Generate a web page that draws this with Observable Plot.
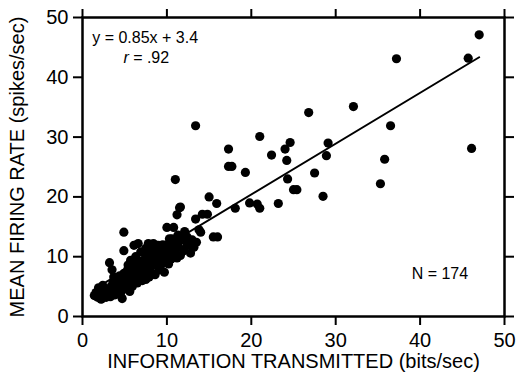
<!DOCTYPE html>
<html>
<head>
<meta charset="utf-8">
<script src="https://cdn.jsdelivr.net/npm/d3@7"></script>
<script src="https://cdn.jsdelivr.net/npm/@observablehq/plot@0.6"></script>
<style>
  html, body { margin: 0; padding: 0; background: #fff; }
  #chart { width: 524px; height: 374px; }
</style>
</head>
<body>
<div id="chart"></div>
<script>
// Information transmitted (bits/sec), x values
const infoX = [
  47.0, 45.7, 37.2, 36.5, 46.1, 35.8, 35.3, 32.1, 26.8, 29.1, 28.9, 27.5, 28.5,
  24.6, 24.0, 22.4, 24.2, 24.3, 25.0, 25.4, 23.2, 13.4, 21.0, 17.3, 17.3, 17.7,
  19.3, 15.0, 15.9, 18.1, 19.8, 20.7, 21.0, 14.2, 14.8, 13.4, 11.5, 11.0, 11.2,
  13.8, 10.0, 10.8, 4.9, 16.0, 15.5, 14.0, 11.6,
  1.4, 1.6, 1.8, 2.0, 2.1, 2.3, 2.5, 2.6, 1.9, 2.8, 2.2, 3.0, 3.1,
  3.3, 3.4, 3.5, 3.6, 3.8, 3.9, 4.0, 3.2, 3.5, 3.7, 4.2, 4.3, 4.4, 4.5, 4.6,
  4.8, 4.9, 5.0, 5.1, 5.2, 5.3, 5.4, 5.5, 5.6, 5.7, 4.9, 5.8, 5.9, 6.0, 6.1, 6.0,
  6.2, 6.3, 6.4, 6.5, 6.6, 6.6, 6.7, 6.8, 6.9, 7.0, 7.1, 7.2, 7.3, 7.4, 7.5, 7.6,
  7.7, 7.8, 7.9, 7.9,
  8.0, 8.1, 8.2, 8.3, 8.4, 8.5, 8.6, 8.7, 8.8, 8.9, 9.0, 9.1, 9.2, 9.3, 9.4, 9.5,
  9.6, 9.7, 9.8, 9.9,
  10.0, 10.1, 10.2, 10.3, 10.4, 10.5, 10.6, 10.7, 10.8, 11.0, 11.1, 11.2, 11.3,
  11.4, 11.6, 11.8,
  12.0, 12.2, 12.4, 12.4, 12.6, 12.8, 13.0, 13.2, 13.5, 12.1,
  4.7, 5.6, 7.5, 2.4, 3.6, 6.3, 8.0, 9.4, 10.6
];
// Mean firing rate (spikes/sec), y values
const rateY = [
  47.1, 43.2, 43.1, 31.9, 28.1, 26.3, 22.2, 35.1, 34.1, 29.0, 26.9, 24.0, 20.1,
  29.1, 28.0, 27.0, 26.1, 23.0, 21.2, 21.2, 18.9, 31.9, 30.1, 28.0, 25.1, 25.1,
  24.1, 20.0, 18.9, 18.1, 19.0, 18.8, 18.1, 17.1, 17.1, 16.3, 18.2, 22.9, 17.0,
  14.5, 14.9, 14.9, 14.1, 13.3, 13.3, 14.1, 18.3,
  3.5, 4.0, 3.2, 3.8, 4.5, 3.0, 3.6, 4.2, 4.8, 3.2, 2.9, 3.8, 4.6,
  3.3, 5.0, 4.2, 5.6, 3.6, 4.8, 6.0, 9.0, 7.8, 6.6, 5.2, 4.0, 6.8, 3.8, 5.8,
  4.6, 7.2, 5.4, 6.4, 4.6, 7.7, 8.6, 5.0, 6.0, 9.4, 11.0, 7.0, 5.0, 8.2, 11.9, 5.6,
  6.6, 10.0, 7.6, 5.6, 12.2, 9.0, 6.2, 8.0, 10.8, 7.0, 6.0, 9.4, 8.4, 6.6, 11.4, 7.6,
  10.2, 12.2, 6.6, 9.0,
  8.0, 11.0, 7.2, 9.8, 12.2, 8.6, 7.0, 10.6, 11.8, 9.2, 11.9, 7.8, 10.2, 8.6, 9.1, 12.0,
  10.8, 7.4, 11.4, 9.6,
  12.0, 10.4, 8.8, 13.0, 11.2, 9.6, 13.0, 12.0, 10.8, 10.7, 12.4, 9.8, 13.6,
  11.6, 10.2, 12.8,
  11.0, 13.4, 11.9, 13.3, 12.2, 10.6, 12.8, 11.6, 12.4, 14.2,
  3.0, 4.2, 6.2, 5.2, 4.4, 7.0, 9.4, 10.4, 11.8
];
const xTicks = [0, 10, 20, 30, 40, 50];
const yTicks = [0, 10, 20, 30, 40, 50];
const fitSlope = 0.85;
const fitIntercept = 3.4;
const fitRangeX = [1.5, 47];
const xTitle = "INFORMATION TRANSMITTED (bits/sec)";
const yTitle = "MEAN FIRING RATE (spikes/sec)";
const eqText = "y = 0.85x + 3.4";
const rSymbol = "r";
const rValue = "= .92";
const nText = "N = 174";

const points = infoX.map((x, i) => ({x, y: rateY[i]}));
const fitLine = fitRangeX.map(x => ({x, y: fitSlope * x + fitIntercept}));

const font = "'Liberation Sans', Arial, Helvetica, sans-serif";
const noLabel = () => "";

const chart = Plot.plot({
  width: 524,
  height: 374,
  marginLeft: 82,
  marginRight: 20,
  marginTop: 17,
  marginBottom: 58,
  style: {fontFamily: font, fontSize: "20px", color: "#000", background: "#fff"},
  x: {domain: [0, 50]},
  y: {domain: [0, 50]},
  marks: [
    Plot.axisX(xTicks, {anchor: "bottom", tickSize: 9, tickPadding: 7, strokeWidth: 2, label: null, fontSize: 20}),
    Plot.axisX(xTicks, {anchor: "top", tickSize: 9, strokeWidth: 2, tickFormat: noLabel, label: null}),
    Plot.axisY(yTicks, {anchor: "left", tickSize: 9, tickPadding: 5, strokeWidth: 2, label: null, fontSize: 20}),
    Plot.axisY(yTicks, {anchor: "right", tickSize: 9, strokeWidth: 2, tickFormat: noLabel, label: null}),
    Plot.frame({stroke: "#000", strokeWidth: 2.5}),
    Plot.line(fitLine, {x: "x", y: "y", stroke: "#000", strokeWidth: 2}),
    Plot.dot(points, {x: "x", y: "y", r: 4.6, fill: "#000", stroke: "none"}),
    Plot.text([eqText], {x: 1.15, y: 46.6, text: d => d, textAnchor: "start", fontSize: 16}),
    Plot.text([rSymbol], {x: 4.85, y: 43.3, text: d => d, textAnchor: "start", fontSize: 16, fontStyle: "italic"}),
    Plot.text([rValue], {x: 6.0, y: 43.3, text: d => d, textAnchor: "start", fontSize: 16}),
    Plot.text([nText], {x: 39.0, y: 7.2, text: d => d, textAnchor: "start", fontSize: 16}),
    Plot.text([xTitle], {frameAnchor: "bottom", dy: 51, lineAnchor: "bottom", textAnchor: "middle", text: d => d, fontSize: 20}),
    Plot.text([yTitle], {frameAnchor: "left", dx: -65, rotate: -90, textAnchor: "middle", lineAnchor: "middle", text: d => d, fontSize: 20})
  ]
});
document.getElementById("chart").appendChild(chart);
</script>
</body>
</html>
